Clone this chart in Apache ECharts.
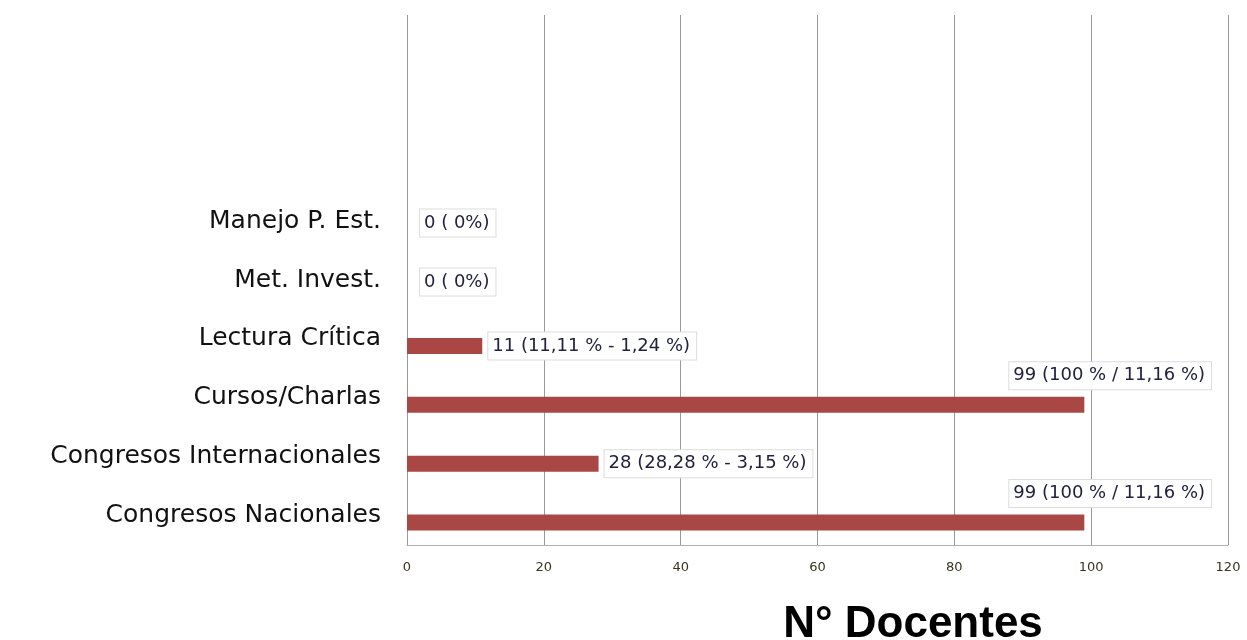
<!DOCTYPE html>
<html>
<head>
<meta charset="utf-8">
<script src="https://cdn.jsdelivr.net/npm/echarts@6/dist/echarts.min.js"></script>
<style>
  html, body { margin: 0; padding: 0; background: #fff; }
  #chart { width: 1247px; height: 640px; }
</style>
</head>
<body>
<div id="chart"></div>
<script>
// categories bottom -> top (top three slots are empty in the original)
const categories = ['Congresos Nacionales', 'Congresos Internacionales', 'Cursos/Charlas',
  'Lectura Crítica', 'Met. Invest.', 'Manejo P. Est.', '', '', '']
const values = [99, 28, 99, 11, 0, 0, null, null, null]
const labelTexts = ['99 (100 % / 11,16 %)', '28 (28,28 % - 3,15 %)', '99 (100 % / 11,16 %)',
  '11 (11,11 % - 1,24 %)', '0 ( 0%)', '0 ( 0%)', '', '', '']
const xTicks = [0, 20, 40, 60, 80, 100, 120]

const chart = echarts.init(document.getElementById('chart'))

const barData = values.map((v, i) => {
  if (v === null) return null
  const top = v > 50
  return {
    value: v,
    label: {
      offset: top ? [-80, -29] : (v === 0 ? [8, -5] : [1, 0])
    }
  }
})

chart.setOption({
  animation: false,
  grid: { left: 407, right: 19, top: 15, bottom: 95 },
  xAxis: {
    type: 'value',
    min: xTicks[0],
    max: xTicks[xTicks.length - 1],
    interval: 20,
    axisLine: { show: true, lineStyle: { color: '#b0b0b0', width: 1 } },
    axisTick: { show: false },
    axisLabel: { color: '#3a3320', fontSize: 13, fontFamily: 'DejaVu Sans', margin: 16 },
    splitLine: { show: true, lineStyle: { color: '#9a9a9a', width: 1 } }
  },
  yAxis: {
    type: 'category',
    data: categories,
    axisLine: { show: false },
    axisTick: { show: false },
    axisLabel: { color: '#111', fontSize: 25, fontFamily: 'DejaVu Sans', margin: 26 }
  },
  graphic: [{
    type: 'text',
    x: 913,
    y: 603,
    style: {
      text: 'N° Docentes',
      font: 'bold 44px "Liberation Sans"',
      fill: '#000',
      textAlign: 'center'
    }
  }],
  series: [
    {
      // spacer series so the bars sit a little below the category centre
      type: 'bar',
      data: values,
      barWidth: 14,
      barGap: '0%',
      itemStyle: { color: 'rgba(0,0,0,0)' },
      silent: true
    },
    {
      type: 'bar',
      data: barData,
      barWidth: 16,
      itemStyle: { color: '#a94744' },
      label: {
        show: true,
        position: 'right',
        distance: 5,
        formatter: p => labelTexts[p.dataIndex],
        color: '#22223f',
        fontSize: 18,
        fontFamily: 'DejaVu Sans',
        backgroundColor: '#fff',
        borderColor: '#dcdcdc',
        borderWidth: 1,
        padding: [5, 6, 4, 4]
      }
    }
  ]
})
</script>
</body>
</html>
